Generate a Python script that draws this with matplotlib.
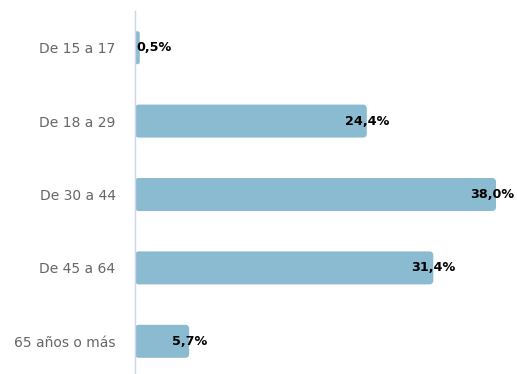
import matplotlib.pyplot as plt
from matplotlib.patches import FancyBboxPatch

categories = ["De 15 a 17", "De 18 a 29", "De 30 a 44", "De 45 a 64", "65 años o más"]
values = [0.5, 24.4, 38.0, 31.4, 5.7]
labels = ["0,5%", "24,4%", "38,0%", "31,4%", "5,7%"]

bar_color = "#8abbd1"
W, H = 517, 374
fig = plt.figure(figsize=(W / 100, H / 100), dpi=100)
# plot area in pixels: left 135, right 515, top 11, bottom 378
ax = fig.add_axes([135 / W, 1 - 378 / H, (515 - 135) / W, (378 - 11) / H])

ypos = list(range(len(categories)))
bars = ax.barh(ypos, values, height=0.45, color=bar_color)
ax.set_xlim(0, 40)
ax.set_ylim(len(categories) - 0.5, -0.5)

# swap the square bars for rounded ones with the same geometry
px_x = 380 / 40               # pixels per x unit
px_y = 367 / len(categories)  # pixels per y unit
aspect = px_x / px_y
r_px = 4
for b in bars:
    x0, y0, w, h = b.get_x(), b.get_y(), b.get_width(), b.get_height()
    b.set_visible(False)
    r = min(r_px / px_x, w / 2)
    p = FancyBboxPatch((x0, y0), w, h,
                       boxstyle=f"round,pad=0,rounding_size={r}",
                       mutation_aspect=aspect,
                       facecolor=bar_color, edgecolor="none")
    ax.add_patch(p)

for i, (v, lab) in enumerate(zip(values, labels)):
    if v < 3:
        ax.text(0.15, i, lab, ha="left", va="center", fontsize=9.2,
                fontweight="bold", color="black")
    else:
        ax.text(min(v, 37.6), i, lab, ha="center", va="center", fontsize=9.2,
                fontweight="bold", color="black")

ax.set_yticks(ypos)
ax.set_yticklabels(categories, fontsize=10, color="#666666")
ax.tick_params(axis="y", length=0, pad=14)
ax.set_xticks([])
for s in ["top", "right", "bottom"]:
    ax.spines[s].set_visible(False)
ax.spines["left"].set_color("#ccd6eb")
ax.spines["left"].set_linewidth(1)

fig.savefig("out.png", dpi=100)
